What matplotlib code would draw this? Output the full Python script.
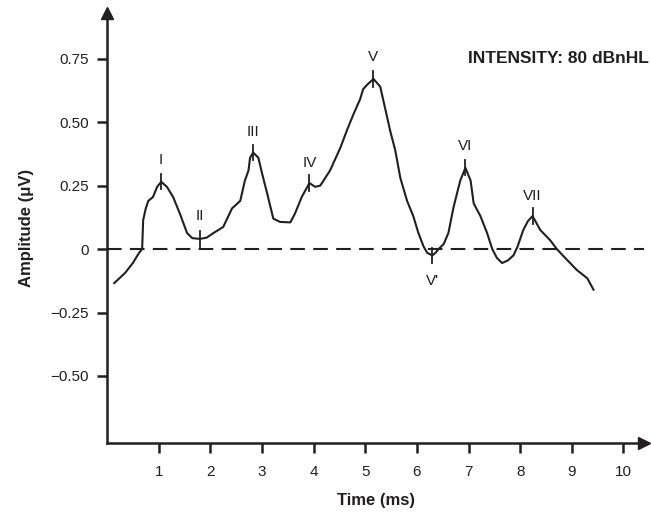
"""
ABR waveform at 80 dBnHL - recreated with matplotlib
"""

import matplotlib
matplotlib.use("Agg")
import matplotlib.pyplot as plt

plt.rcParams['font.family'] = ['Liberation Sans', 'DejaVu Sans']

# waveform trace (time in ms, amplitude in uV)
time_ms = [0.14, 0.35, 0.50, 0.62, 0.68, 0.70, 0.75, 0.80, 0.89, 0.97, 1.05,
           1.16, 1.28, 1.41, 1.55, 1.65, 1.80, 1.93, 2.06, 2.25, 2.42, 2.58,
           2.67, 2.74, 2.77, 2.83, 2.93, 3.00, 3.10, 3.22, 3.35, 3.55, 3.64,
           3.77, 3.92, 4.03, 4.13, 4.32, 4.52, 4.65, 4.77, 4.90, 4.96, 5.05,
           5.16, 5.29, 5.39, 5.49, 5.58, 5.68, 5.81, 5.93, 6.03, 6.13, 6.20,
           6.30, 6.36, 6.42, 6.52, 6.61, 6.71, 6.84, 6.94, 7.04, 7.10, 7.23,
           7.36, 7.46, 7.55, 7.65, 7.76, 7.87, 7.95, 8.06, 8.15, 8.24, 8.39,
           8.58, 8.71, 8.91, 9.10, 9.30, 9.42]
amp_uv = [-0.134, -0.094, -0.055, -0.015, 0.0, 0.114, 0.16, 0.19, 0.205, 0.245, 0.265,
          0.245, 0.205, 0.14, 0.063, 0.043, 0.040, 0.045, 0.063, 0.087, 0.16, 0.19,
          0.27, 0.31, 0.36, 0.38, 0.36, 0.30, 0.22, 0.12, 0.107, 0.105, 0.14,
          0.205, 0.26, 0.245, 0.25, 0.31, 0.40, 0.47, 0.53, 0.59, 0.63, 0.65,
          0.67, 0.64, 0.55, 0.46, 0.39, 0.28, 0.19, 0.13, 0.063, 0.01, -0.015,
          -0.025, -0.015, 0.0, 0.02, 0.063, 0.165, 0.27, 0.32, 0.27, 0.18, 0.13,
          0.063, 0.0, -0.035, -0.055, -0.045, -0.025, 0.01, 0.075, 0.11, 0.13, 0.075,
          0.035, 0.0, -0.043, -0.083, -0.115, -0.16]

# peak labels
peak_names = ['I', 'II', 'III', 'IV', 'V', "V'", 'VI', 'VII']
peak_t = [1.05, 1.80, 2.83, 3.92, 5.16, 6.30, 6.94, 8.24]
peak_amp = [0.265, 0.040, 0.38, 0.26, 0.67, -0.025, 0.32, 0.13]
label_amp = [0.35, 0.13, 0.46, 0.34, 0.755, -0.126, 0.405, 0.21]

yticks = [-0.50, -0.25, 0, 0.25, 0.50, 0.75]
ytick_labels = ['\u22120.50', '\u22120.25', '0', '0.25', '0.50', '0.75']
xticks = [1, 2, 3, 4, 5, 6, 7, 8, 9, 10]

fig = plt.figure(figsize=(6.51, 5.15), dpi=100)
ax = fig.add_axes([0.1644, 0.1398, 0.825, 0.835])
ax.set_xlim(0, 10.4)
ax.set_ylim(-0.764, 0.93)

# axes look
for s in ['top', 'right']:
    ax.spines[s].set_visible(False)
for s in ['left', 'bottom']:
    ax.spines[s].set_linewidth(1.8)
    ax.spines[s].set_color('#231f20')
ax.plot(1, 0, '>', color='#231f20', markersize=9, transform=ax.transAxes, clip_on=False)
ax.plot(0, 1, '^', color='#231f20', markersize=9, transform=ax.transAxes, clip_on=False)

ax.set_xticks(xticks)
ax.set_yticks(yticks)
ax.set_yticklabels(ytick_labels)
ax.tick_params(axis='both', direction='out', length=7, width=1.8, color='#231f20',
               labelsize=11, labelcolor='#231f20')
ax.tick_params(axis='x', pad=9)
ax.tick_params(axis='y', pad=6)

# zero line
ax.axhline(0, color='#231f20', lw=1.5, dashes=(7, 4))

# waveform
ax.plot(time_ms, amp_uv, color='#231f20', lw=1.5)

# peak marks and labels
for name, t, a, la in zip(peak_names, peak_t, peak_amp, label_amp):
    ax.plot([t, t], [a - 0.03, a + 0.03], color='#231f20', lw=1.3)
    ax.text(t, la, name, ha='center', va='center', fontsize=11, color='#231f20')

ax.text(1.009, 0.75, 'INTENSITY: 80 dBnHL', ha='right', va='center',
        transform=ax.get_yaxis_transform(),
        fontsize=12.5, fontweight='bold', color='#231f20')

ax.set_xlabel('Time (ms)', fontsize=12, fontweight='bold', color='#231f20', labelpad=10)
ax.set_ylabel('Amplitude (\u03bcV)', fontsize=12, fontweight='bold', color='#231f20', labelpad=12)

fig.savefig('out.png', dpi=100)
